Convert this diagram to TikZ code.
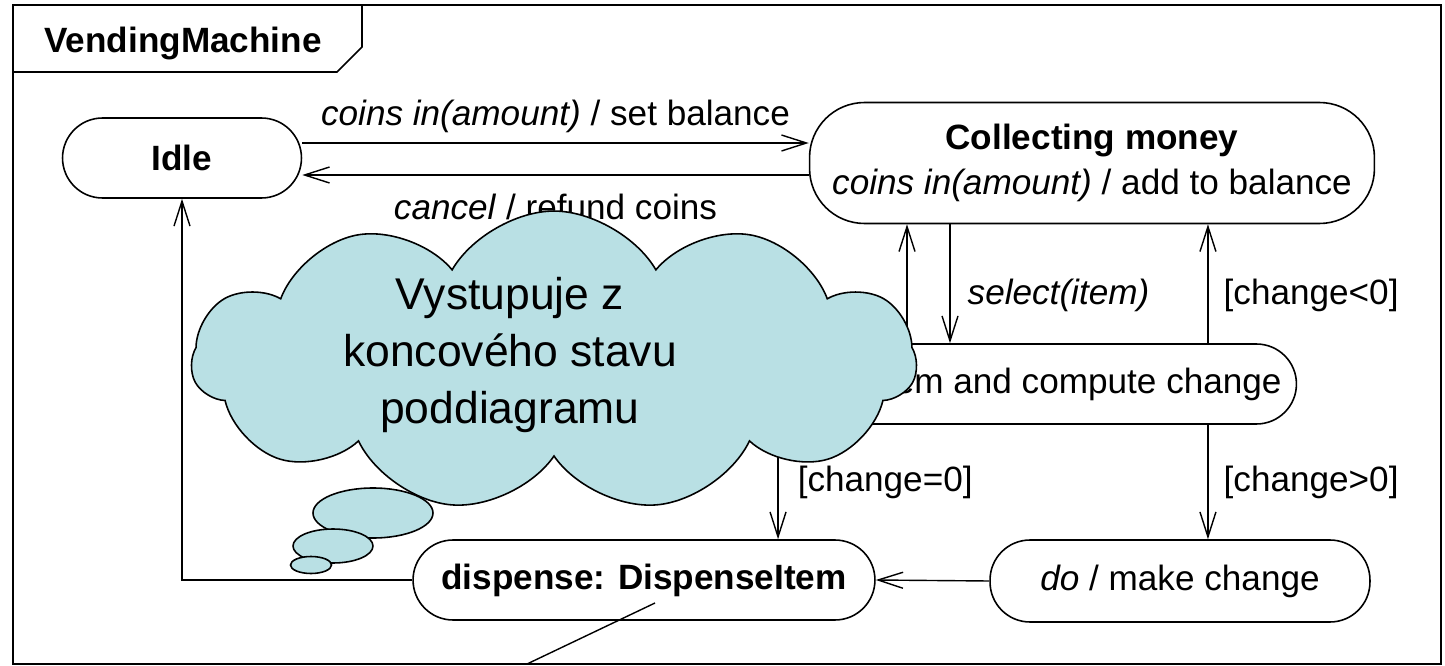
\documentclass[tikz,border=0pt]{standalone}
\usepackage{fontspec}
\setmainfont{Liberation Sans}
\usetikzlibrary{positioning, shapes.symbols, shapes.geometric, arrows.meta}
\definecolor{cloudblue}{RGB}{185,224,228}

\begin{document}
\begin{tikzpicture}[
        x=0.02cm, y=-0.02cm,
        umlstate/.style={rectangle, draw, line width=0.9pt, rounded corners=0.8cm, minimum height=1.6cm, align=center, font=\fontsize{20}{25.6}\selectfont},
        trans/.style={line width=0.8pt, -{Straight Barb[length=5mm, width=3.2mm]}},
        guard/.style={inner sep=0pt, font=\fontsize{20}{24}\selectfont},
        note/.style={cloud, cloud puffs=11, cloud puff arc=120, cloud ignores aspect, shape border rotate=12, draw, line width=0.9pt, fill=cloudblue},
        bubble/.style={ellipse, draw, line width=0.9pt, fill=cloudblue, inner sep=0pt}
    ]
        \useasboundingbox (0,0) rectangle (1445,666);

        % Marco
        \draw[line width=1pt] (13,5) rectangle (1441,664);
        \draw[line width=1pt] (13,72) -- (337,72) -- (362,47) -- (362,5);
        \node[font=\bfseries\fontsize{20}{24}\selectfont] (title) at (183,43) {VendingMachine};

        % Estados
        \node[umlstate, minimum width=4.78cm] (idle) at (182,158) {\textbf{Idle}};
        \node[umlstate, minimum width=11.3cm, minimum height=2.42cm, rounded corners=1.1cm] (collect) at (1092,163) {\textbf{Collecting money}\\\textit{coins in(amount)} / add to balance};
        \node[umlstate, minimum width=11.38cm] (test) at (1012,384) {\textit{do} / test item and compute change};
        \node[umlstate, minimum width=9.24cm] (dispense) at (644,580) {\textbf{dispense: DispenseItem}};
        \node[umlstate, minimum width=7.6cm, minimum height=1.64cm] (makechange) at (1180,581) {\textit{do} / make change};

        % Transiciones
        \draw[trans] ([yshift=0.3cm]idle.east) -- ([yshift=0.3cm]idle.east -| collect.west)
            node[guard, midway, above=0.2cm] (coinslbl) {\textit{coins in(amount)} / set balance};
        \draw[trans] ([yshift=-0.24cm]collect.west) -- ([yshift=-0.24cm]collect.west -| idle.east)
            node[guard, midway, below=0.36cm] (cancellbl) {\textit{cancel} / refund coins};
        \draw[trans] ([xshift=-2.1cm]test.north) -- ([xshift=-2.1cm]test.north |- collect.south);
        \draw[trans] ([xshift=-1.24cm]test.north |- collect.south) -- ([xshift=-1.24cm]test.north)
            node[guard, pos=0.6, right=0.34cm] (selectlbl) {\textit{select(item)}};
        \draw[trans] ([xshift=3.92cm]test.north) -- ([xshift=3.92cm]test.north |- collect.south)
            node[guard, pos=0.4, right=0.3cm] (lesslbl) {[change<0]};
        \draw[trans] ([xshift=-4.68cm]test.south) -- ([xshift=-4.68cm]test.south |- dispense.north)
            node[guard, pos=0.5, right=0.38cm] (zerolbl) {[change=0]};
        \draw[trans] ([xshift=3.92cm]test.south) -- ([xshift=3.92cm]test.south |- makechange.north)
            node[guard, pos=0.5, right=0.3cm] (morelbl) {[change>0]};
        \draw[trans] (makechange.west) -- (dispense.east);
        \draw[trans] (dispense.west) -| (idle.south);

        % Linea suelta
        \coordinate (ptrstart) at (655,603);
        \coordinate (ptrend) at (527,664);
        \draw[line width=0.8pt] (ptrstart) -- (ptrend);

        % Nube
        \node[note, minimum width=14.5cm, minimum height=6.0cm] (cloudnote) at (554,361) {};
        \node[align=center, font=\fontsize{25.3}{32.7}\selectfont] (cloudtext) at (510,355) {Vystupuje z\\koncového stavu\\poddiagramu};
        \node[bubble, minimum width=2.4cm, minimum height=1cm] (bub1) at (373,513) {};
        \node[bubble, minimum width=1.6cm, minimum height=0.68cm] (bub2) at (333,546) {};
        \node[bubble, minimum width=0.82cm, minimum height=0.34cm] (bub3) at (311,565) {};

    \end{tikzpicture}
\end{document}
